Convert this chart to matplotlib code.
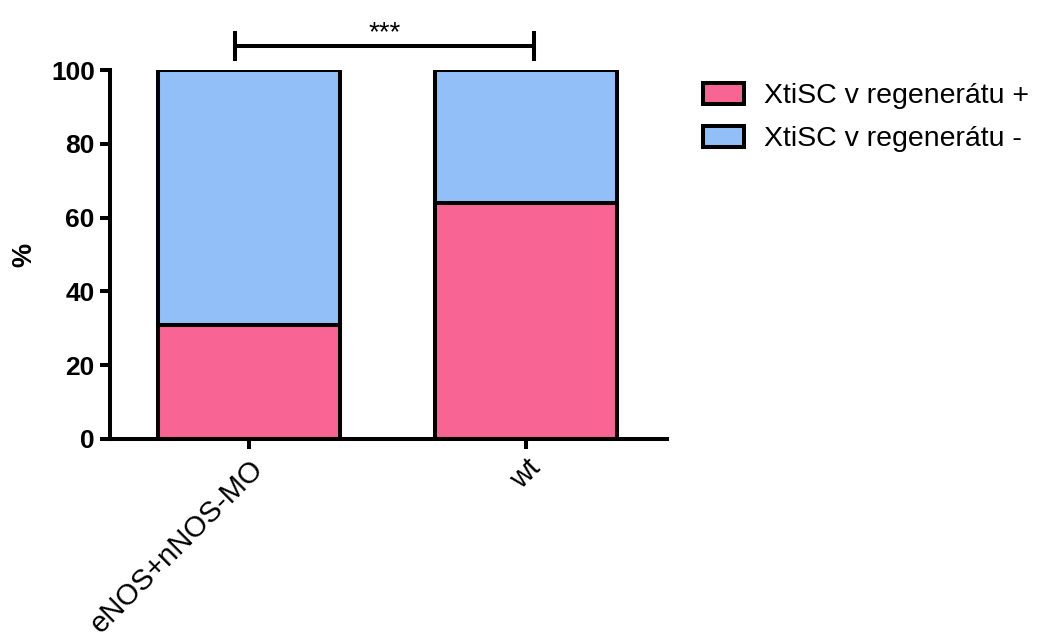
import matplotlib
matplotlib.use("Agg")
import matplotlib.pyplot as plt
from matplotlib.patches import Patch

categories = ["eNOS+nNOS-MO", "wt"]
positive = [31, 64]
negative = [69, 36]
series_labels = ["XtiSC v regenerátu +", "XtiSC v regenerátu -"]
colors = ["#F86494", "#92BFF8"]

plt.rcParams['font.family'] = ['Liberation Sans', 'DejaVu Sans']

fig = plt.figure(figsize=(10.51, 6.32), dpi=100)
ax = fig.add_axes([0.1047, 0.3054, 0.5299, 0.5838])

x = list(range(len(categories)))
w = 0.66
lw = 2.9
ax.bar(x, positive, width=w, color=colors[0], edgecolor='black', linewidth=lw, zorder=2)
ax.bar(x, negative, width=w, bottom=positive, color=colors[1], edgecolor='black', linewidth=lw, zorder=2)

ax.set_xlim(-0.502, 1.509)
ax.set_ylim(0, 100)
ax.spines['top'].set_visible(False)
ax.spines['right'].set_visible(False)
ax.spines['left'].set_linewidth(lw)
ax.spines['bottom'].set_linewidth(lw)
ax.set_yticks([0, 20, 40, 60, 80, 100])
ax.tick_params(axis='both', width=lw, length=7.5, colors='black')
ax.tick_params(axis='y', pad=3.5)
for lab in ax.get_yticklabels():
    lab.set_fontsize(19)
    lab.set_fontweight('bold')
ax.set_xticks(x)
ax.set_xticklabels(categories, rotation=45, ha='right', va='top', fontsize=21,
                   rotation_mode='anchor')
ax.set_ylabel('%', fontsize=19.5, fontweight='bold', labelpad=10)

# significance bracket
yb = 106.5
xl, xr = x[0] - 0.05, x[1] + 0.03
ax.plot([xl, xr], [yb, yb], color='black', lw=lw, clip_on=False, solid_capstyle='butt')
for xi in (xl, xr):
    ax.plot([xi, xi], [yb - 3.5, yb + 3.5], color='black', lw=lw, clip_on=False)
ax.text((xl + xr) / 2, 108.2, '***', ha='center', va='baseline', fontsize=20)

handles = [Patch(facecolor=c, edgecolor='black', linewidth=lw, label=l)
           for c, l in zip(colors, series_labels)]
fig.legend(handles=handles, loc='upper left', bbox_to_anchor=(703 / 1051, 1 - 83 / 632),
           frameon=False, fontsize=20.5, handlelength=1.45, handleheight=0.75,
           handletextpad=0.7, labelspacing=0.58, borderpad=0, borderaxespad=0)

fig.savefig('out.png', dpi=100)
